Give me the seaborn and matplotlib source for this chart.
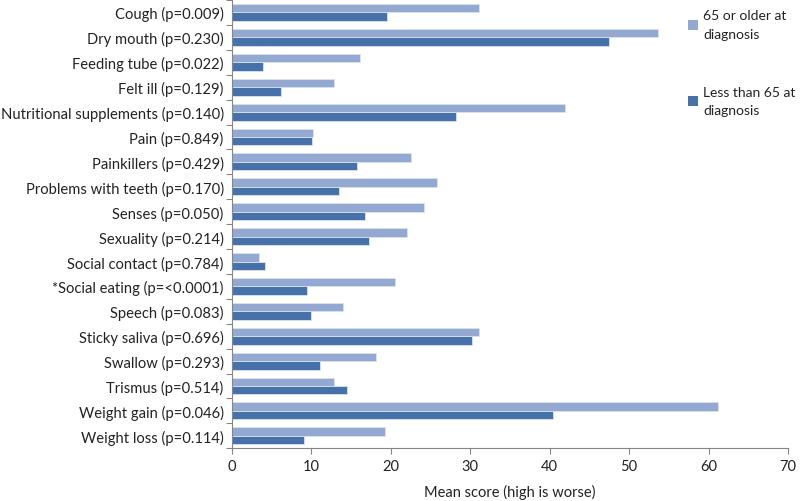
import pandas as pd
import seaborn as sns
import matplotlib.pyplot as plt
from matplotlib.patches import Patch
from matplotlib.ticker import FixedLocator

items = ["Cough (p=0.009)", "Dry mouth (p=0.230)", "Feeding tube (p=0.022)",
         "Felt ill (p=0.129)", "Nutritional supplements (p=0.140)", "Pain (p=0.849)",
         "Painkillers (p=0.429)", "Problems with teeth (p=0.170)", "Senses (p=0.050)",
         "Sexuality (p=0.214)", "Social contact (p=0.784)", "*Social eating (p=<0.0001)",
         "Speech (p=0.083)", "Sticky saliva (p=0.696)", "Swallow (p=0.293)",
         "Trismus (p=0.514)", "Weight gain (p=0.046)", "Weight loss (p=0.114)"]

older = [31.1, 53.6, 16.1, 12.9, 41.9, 10.2, 22.5, 25.8, 24.2,
         22.0, 3.4, 20.5, 14.0, 31.1, 18.1, 12.9, 61.2, 19.3]
younger = [19.5, 47.5, 3.9, 6.2, 28.2, 10.1, 15.7, 13.5, 16.8,
           17.2, 4.2, 9.4, 9.9, 30.2, 11.1, 14.5, 40.4, 9.1]

groups = ["65 or older at diagnosis", "Less than 65 at diagnosis"]
legend_labels = ["65 or older at\ndiagnosis", "Less than 65 at\ndiagnosis"]
colors = ["#93A9D2", "#4672A9"]

df = pd.DataFrame({
    "item": items * 2,
    "score": older + younger,
    "group": [groups[0]] * len(items) + [groups[1]] * len(items),
})

sns.set_style("white")
plt.rcParams["font.family"] = ["Lato", "DejaVu Sans"]

fig = plt.figure(figsize=(8, 5.02), dpi=100)
ax = fig.add_axes([0.29, 0.105, 0.695, 0.893])

sns.barplot(data=df, y="item", x="score", hue="group", hue_order=groups,
            palette=colors, orient="h", width=0.68, saturation=1,
            edgecolor="#DCE3F0", linewidth=0.6, legend=False, ax=ax)

ax.set_xlim(0, 70)
ax.set_ylim(len(items) - 0.5, -0.5)
ax.set_xticks(range(0, 71, 10))
ax.set_xlabel("Mean score (high is worse)", fontsize=10.5, color="#222222", labelpad=8)
ax.set_ylabel("")

ax.yaxis.set_minor_locator(FixedLocator([i - 0.5 for i in range(len(items) + 1)]))
ax.tick_params(axis="y", which="major", length=0, labelsize=10.6, labelcolor="#222222", pad=6)
ax.tick_params(axis="y", which="minor", length=4, color="#868686", width=0.8, left=True)
ax.tick_params(axis="x", which="major", length=4, color="#868686", width=0.8,
               labelsize=10.5, labelcolor="#222222", bottom=True)

for side in ["top", "right"]:
    ax.spines[side].set_visible(False)
for side in ["left", "bottom"]:
    ax.spines[side].set_color("#868686")
    ax.spines[side].set_linewidth(0.8)

handles = [Patch(facecolor=c, edgecolor="none") for c in colors]
leg = fig.legend(handles, legend_labels, loc="upper left", bbox_to_anchor=(0.857, 0.985),
                 frameon=False, fontsize=10, handlelength=0.7, handleheight=0.7,
                 handletextpad=0.35, labelspacing=3.3, labelcolor="#222222",
                 borderaxespad=0, borderpad=0.2)
for t in leg.get_texts():
    t.set_linespacing(1.65)

fig.savefig("out.png", dpi=100)
